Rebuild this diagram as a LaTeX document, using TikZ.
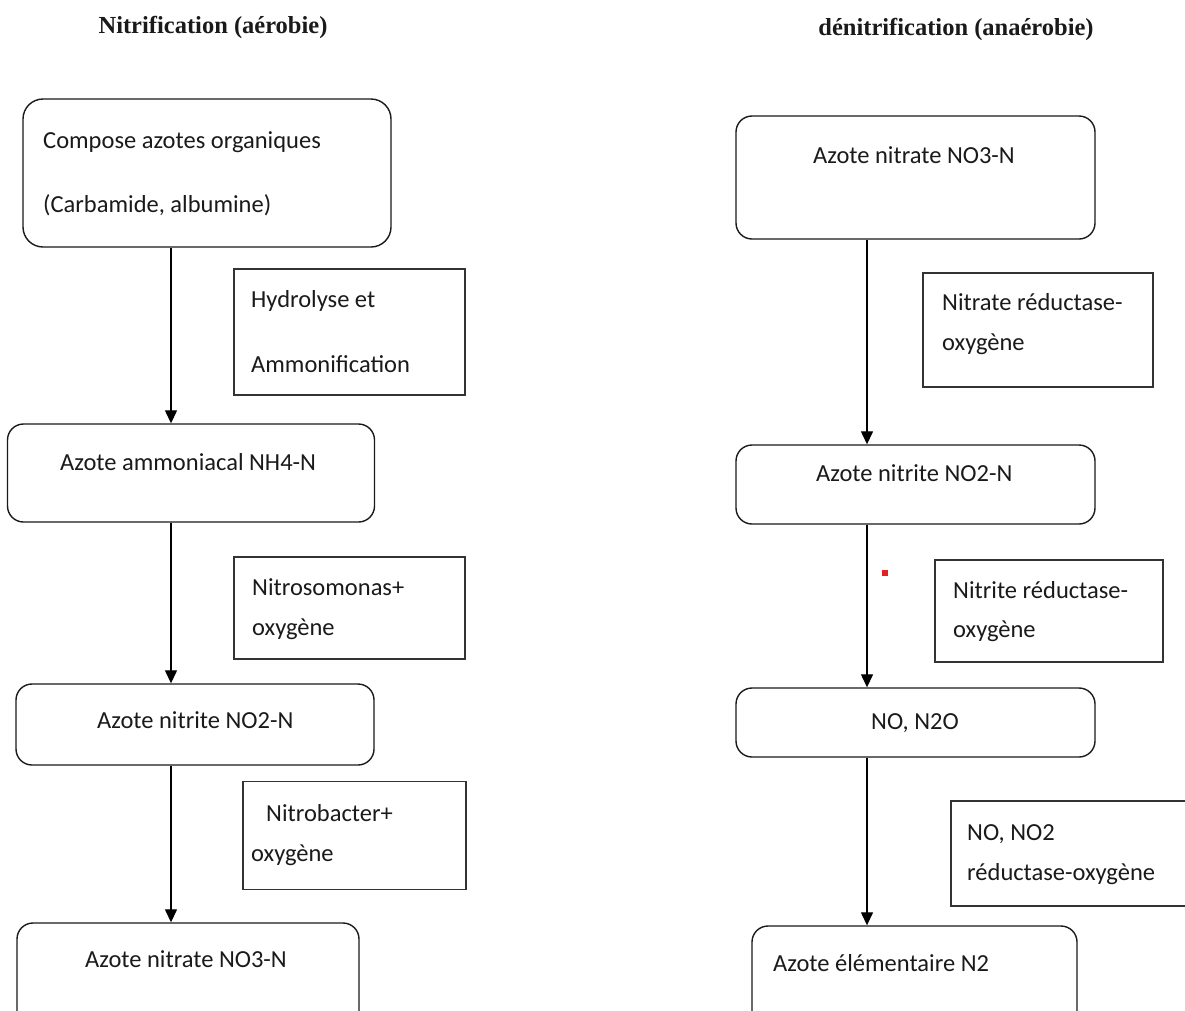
\documentclass[tikz,border=0pt]{standalone}
\usepackage{fontspec}
\setmainfont{Carlito}
\newfontfamily\titlefont{Liberation Serif}
\usetikzlibrary{arrows.meta}
\definecolor{ink}{HTML}{1A1A1A}
\tikzset{
  rbox/.style={draw=ink, line width=1.4pt, rounded corners=16pt, inner sep=0pt},
  lbox/.style={draw=black!80, line width=1.5pt, inner sep=0pt},
  txt/.style={anchor=base west, inner sep=0pt, text=ink, font=\fontsize{24.5pt}{29pt}\selectfont},
  ttl/.style={anchor=base, inner sep=0pt, text=ink, font=\titlefont\bfseries\fontsize{24.5pt}{29pt}\selectfont},
  arr/.style={draw=black, line width=1.3pt, -{Triangle[length=13pt,width=12pt]}},
}
\begin{document}
\begin{tikzpicture}[x=1pt,y=-1pt]
\useasboundingbox (0,0) rectangle (1185,1010);
\fill[white] (0,0) rectangle (1185,1010);
\clip (0,0) rectangle (1185,1010);
\coordinate (cl) at (171,0);
\coordinate (cr) at (867,0);
% titles
\node[ttl] (t1) at (213,33) {Nitrification (aérobie)};
\node[ttl] (t2) at (956,35) {dénitrification (anaérobie)};
% left column boxes
\node[rbox, rounded corners=20pt, minimum width=368pt, minimum height=148pt] (L1) at (207,173) {};
\node[rbox, minimum width=367pt, minimum height=98pt] (L2) at (191,473) {};
\node[rbox, minimum width=358pt, minimum height=81pt] (L3) at (195,724.5) {};
\node[rbox, minimum width=342pt, minimum height=140pt] (L4) at (188,993) {};
% left labels
\node[lbox, minimum width=231pt, minimum height=126pt] (LA) at (349.5,332) {};
\node[lbox, minimum width=231pt, minimum height=102pt] (LB) at (349.5,608) {};
\node[lbox, minimum width=223pt, minimum height=108pt] (LC) at (354.5,835.5) {};
% right column boxes
\node[rbox, minimum width=359pt, minimum height=123pt] (R1) at (915.5,177.5) {};
\node[rbox, minimum width=359pt, minimum height=79pt] (R2) at (915.5,484.5) {};
\node[rbox, minimum width=359pt, minimum height=69pt] (R3) at (915.5,722.5) {};
\node[rbox, minimum width=325pt, minimum height=140pt] (R4) at (914.5,996) {};
% right labels
\node[lbox, minimum width=230pt, minimum height=114pt] (RA) at (1038,330) {};
\node[lbox, minimum width=228pt, minimum height=102pt] (RB) at (1049,611) {};
\node[lbox, minimum width=280pt, minimum height=105pt] (RC) at (1091,853.5) {};
% texts left
\node[txt] (l1a) at (43,148) {Compose azotes organiques};
\node[txt] (l1b) at (43,212) {(Carbamide, albumine)};
\node[txt] (l2) at (60,470) {Azote ammoniacal NH4-N};
\node[txt] (l3) at (97,728) {Azote nitrite NO2-N};
\node[txt] (l4) at (85,967) {Azote nitrate NO3-N};
\node[txt] (la1) at (251,307) {Hydrolyse et};
\node[txt] (la2) at (251,372) {Ammonification};
\node[txt] (lb1) at (252,595) {Nitrosomonas+};
\node[txt] (lb2) at (252,635) {oxygène};
\node[txt] (lc1) at (266,821) {Nitrobacter+};
\node[txt] (lc2) at (251,861) {oxygène};
% texts right
\node[txt] (r1) at (813,163) {Azote nitrate NO3-N};
\node[txt] (r2) at (816,481) {Azote nitrite NO2-N};
\node[txt] (r3) at (871,729) {NO, N2O};
\node[txt] (r4) at (773,971) {Azote élémentaire N2};
\node[txt] (ra1) at (942,310) {Nitrate réductase-};
\node[txt] (ra2) at (942,350) {oxygène};
\node[txt] (rb1) at (953,598) {Nitrite réductase-};
\node[txt] (rb2) at (953,637) {oxygène};
\node[txt] (rc1) at (967,840) {NO, NO2};
\node[txt] (rc2) at (967,880) {réductase-oxygène};
% red dot
\node[fill={rgb,255:red,230;green,30;blue,30}, inner sep=0pt, minimum size=6pt] (dot) at (885,573) {};
% arrows
\draw[arr] (cl |- L1.south) -- (cl |- L2.north);
\draw[arr] (cl |- L2.south) -- (cl |- L3.north);
\draw[arr] (cl |- L3.south) -- (cl |- L4.north);
\draw[arr] (cr |- R1.south) -- (cr |- R2.north);
\draw[arr] (cr |- R2.south) -- (cr |- R3.north);
\draw[arr] (cr |- R3.south) -- (cr |- R4.north);
\end{tikzpicture}
\end{document}
